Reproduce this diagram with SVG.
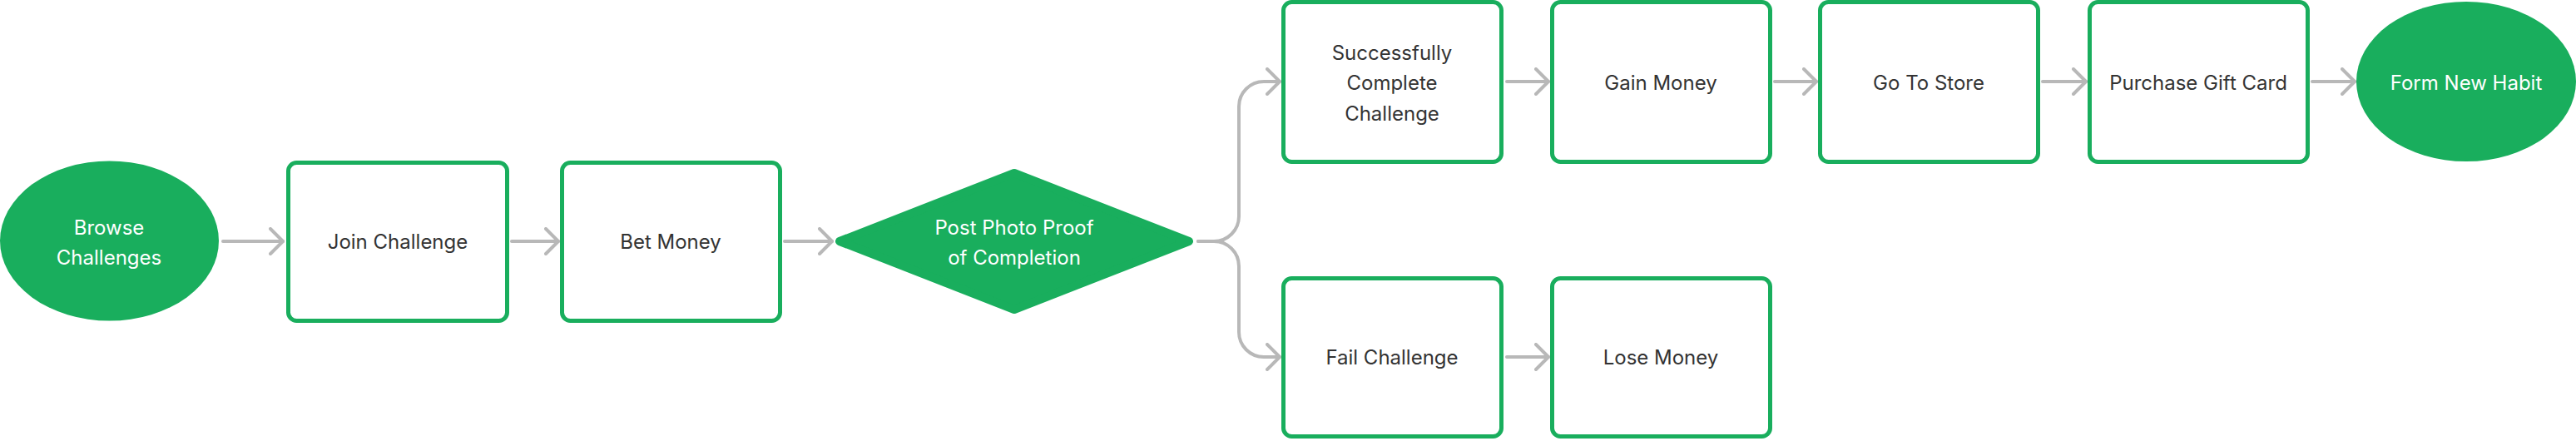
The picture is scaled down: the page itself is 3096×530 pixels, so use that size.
<svg xmlns="http://www.w3.org/2000/svg" width="3096" height="530" viewBox="0 0 3096 530">
<defs>
<style>
.box{fill:#ffffff;stroke:#19AE5D;stroke-width:5}
.term{fill:#19AE5D}
.dec{fill:#19AE5D;stroke:#19AE5D;stroke-width:10;stroke-linejoin:round}
.t{font-family:Inter,"Liberation Sans",sans-serif;font-size:24px;fill:#333333;text-anchor:middle;dominant-baseline:central}
.w{fill:#ffffff}
.c{fill:none;stroke:#B8B8B8;stroke-width:4;stroke-linecap:round;stroke-linejoin:round}
</style>
<marker id="ah" viewBox="0 0 20 34" refX="17" refY="17" markerWidth="20" markerHeight="34" markerUnits="userSpaceOnUse" orient="auto">
<path d="M2,2 L17,17 L2,32" fill="none" stroke="#B8B8B8" stroke-width="4" stroke-linecap="round" stroke-linejoin="round"/>
</marker>
</defs>
<rect width="3096" height="530" fill="#ffffff"/>
<g id="connectors">
<path class="c" d="M268,290 H340" marker-end="url(#ah)"/>
<path class="c" d="M615,290 H671" marker-end="url(#ah)"/>
<path class="c" d="M943,290 H1000" marker-end="url(#ah)"/>
<path class="c" d="M1440,290 H1459 A30,30 0 0 0 1489,260 V128 A30,30 0 0 1 1519,98 H1538" marker-end="url(#ah)"/>
<path class="c" d="M1440,290 H1459 A30,30 0 0 1 1489,320 V399 A30,30 0 0 0 1519,429 H1538" marker-end="url(#ah)"/>
<path class="c" d="M1811,98 H1861" marker-end="url(#ah)"/>
<path class="c" d="M2133,98 H2183" marker-end="url(#ah)"/>
<path class="c" d="M2455,98 H2507" marker-end="url(#ah)"/>
<path class="c" d="M2779,98 H2830" marker-end="url(#ah)"/>
<path class="c" d="M1811,429 H1861" marker-end="url(#ah)"/>
</g>
<g id="browse">
<ellipse class="term" cx="131.5" cy="289.5" rx="131.5" ry="96"/>
<text class="t w" x="131" y="273">Browse</text>
<text class="t w" x="131" y="309">Challenges</text>
</g>
<g id="join">
<rect class="box" x="346.5" y="195.5" width="263" height="190" rx="10"/>
<text class="t" x="478" y="290">Join Challenge</text>
</g>
<g id="bet">
<rect class="box" x="675.5" y="195.5" width="262" height="190" rx="10"/>
<text class="t" x="806" y="290">Bet Money</text>
</g>
<g id="proof">
<polygon class="dec" points="1009,290 1219,208 1429,290 1219,372"/>
<text class="t w" x="1219" y="273">Post Photo Proof</text>
<text class="t w" x="1219" y="309">of Completion</text>
</g>
<g id="success">
<rect class="box" x="1542.5" y="2.5" width="262" height="192" rx="10"/>
<text class="t" x="1673" y="63">Successfully</text>
<text class="t" x="1673" y="99">Complete</text>
<text class="t" x="1673" y="136">Challenge</text>
</g>
<g id="gain">
<rect class="box" x="1865.5" y="2.5" width="262" height="192" rx="10"/>
<text class="t" x="1996" y="99">Gain Money</text>
</g>
<g id="store">
<rect class="box" x="2187.5" y="2.5" width="262" height="192" rx="10"/>
<text class="t" x="2318" y="99">Go To Store</text>
</g>
<g id="purchase">
<rect class="box" x="2511.5" y="2.5" width="262" height="192" rx="10"/>
<text class="t" x="2642" y="99">Purchase Gift Card</text>
</g>
<g id="habit">
<ellipse class="term" cx="2964" cy="98" rx="132" ry="96"/>
<text class="t w" x="2964" y="99">Form New Habit</text>
</g>
<g id="fail">
<rect class="box" x="1542.5" y="334.5" width="262" height="190" rx="10"/>
<text class="t" x="1673" y="429">Fail Challenge</text>
</g>
<g id="lose">
<rect class="box" x="1865.5" y="334.5" width="262" height="190" rx="10"/>
<text class="t" x="1996" y="429">Lose Money</text>
</g>
</svg>
